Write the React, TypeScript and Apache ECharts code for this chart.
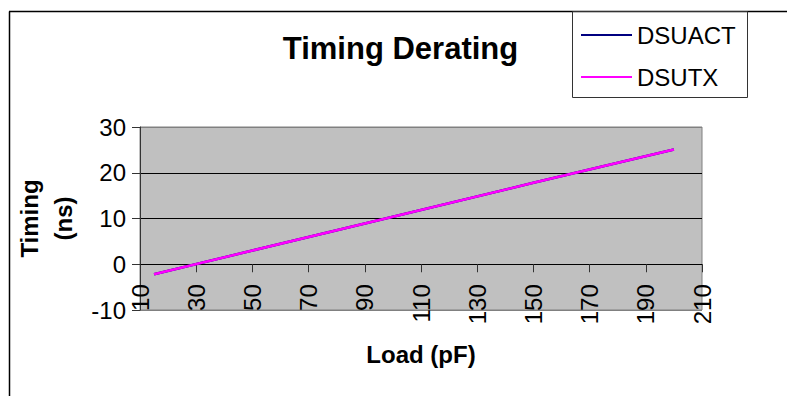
import React, { useEffect, useRef } from "react";
import * as echarts from "echarts";

const titleText = "Timing Derating";
const seriesNames = ["DSUACT", "DSUTX"];
const loads = [15, 50, 100, 150, 200];
const dsuact = [-2.2, 3.0, 10.4, 17.8, 25.1];
const dsutx = [-2.2, 3.0, 10.4, 17.8, 25.1];
const xTicks = [10, 30, 50, 70, 90, 110, 130, 150, 170, 190, 210];
const yTicks = [-10, 0, 10, 20, 30];

const FONT = '"Liberation Sans", Arial, sans-serif';

const GRID_TOP = 127;
const GRID_BOTTOM_PX = 310;

export default function App() {
  const ref = useRef<HTMLDivElement>(null);
  useEffect(() => {
    if (!ref.current) return;
    const chart = echarts.init(ref.current, undefined, { renderer: "svg" });
    const pairs = (ys: number[]) => loads.map((x, i) => [x, ys[i]]);
    const yMin = yTicks[0];
    const yMax = yTicks[yTicks.length - 1];
    // shift x axis up so it sits at y = 0 (like an Excel axis crossing)
    const zeroOffset = -((0 - yMin) / (yMax - yMin)) * (GRID_BOTTOM_PX - GRID_TOP);
    chart.setOption({
      animation: false,
      backgroundColor: "#ffffff",
      textStyle: { fontFamily: FONT },
      grid: {
        left: 140,
        right: 85,
        top: GRID_TOP,
        bottom: 396 - GRID_BOTTOM_PX,
        containLabel: false,
        outerBoundsMode: "none",
        show: true,
        backgroundColor: "#c0c0c0",
        borderColor: "#808080",
        borderWidth: 1,
      },
      legend: {
        orient: "vertical",
        left: 581,
        top: 23,
        padding: 0,
        itemGap: 18,
        itemWidth: 51,
        itemHeight: 2,
        icon: "rect",
        data: seriesNames,
        textStyle: { fontSize: 24, color: "#000", fontFamily: FONT, lineHeight: 24 },
      },
      xAxis: {
        type: "value",
        min: xTicks[0],
        max: xTicks[xTicks.length - 1],
        offset: zeroOffset,
        name: "Load (pF)",
        nameLocation: "middle",
        nameGap: 78,
        nameTextStyle: { fontSize: 24, fontWeight: "bold", color: "#000", fontFamily: FONT },
        axisLine: { show: true, onZero: false, lineStyle: { color: "#000", width: 1 } },
        axisTick: { show: true, length: 8, customValues: xTicks, lineStyle: { color: "#333" } },
        axisLabel: {
          customValues: xTicks,
          rotate: 90,
          margin: 20,
          fontSize: 24,
          color: "#000",
          fontFamily: FONT,
          showMinLabel: true,
          showMaxLabel: true,
        },
        splitLine: { show: false },
      },
      yAxis: {
        type: "value",
        min: yMin,
        max: yMax,
        interval: 10,
        name: "Timing\n(ns)",
        nameLocation: "middle",
        nameGap: 55,
        nameRotate: 90,
        nameTextStyle: {
          fontSize: 24,
          fontWeight: "bold",
          color: "#000",
          fontFamily: FONT,
          lineHeight: 34,
          align: "center",
        },
        axisLine: { show: true, lineStyle: { color: "#333", width: 1 } },
        axisTick: { show: true, length: 8, lineStyle: { color: "#333" } },
        axisLabel: { fontSize: 24, color: "#000", margin: 14, fontFamily: FONT },
        splitLine: {
          show: true,
          lineStyle: { color: ["#808080", "#000", "#000", "#000", "#808080"], width: 1 },
        },
      },
      graphic: [
        {
          type: "line",
          shape: { x1: 9.5, y1: 11.5, x2: 9.5, y2: 396 },
          style: { stroke: "#000", lineWidth: 1.5 },
          silent: true,
        },
        {
          type: "line",
          shape: { x1: 9, y1: 11.5, x2: 787, y2: 11.5 },
          style: { stroke: "#000", lineWidth: 1.5 },
          silent: true,
        },
        {
          type: "rect",
          shape: { x: 572.5, y: 11.5, width: 175, height: 86 },
          style: { fill: "none", stroke: "#333", lineWidth: 1 },
          silent: true,
        },
        {
          type: "text",
          x: 400.5,
          y: 48,
          style: {
            text: titleText,
            font: 'bold 31px "Liberation Sans", Arial, sans-serif',
            fill: "#000",
            align: "center",
            verticalAlign: "middle",
            textAlign: "center",
            textVerticalAlign: "middle",
          },
          silent: true,
        },
      ],
      series: [
        {
          name: seriesNames[0],
          type: "line",
          data: pairs(dsuact),
          symbol: "none",
          color: "#000080",
          lineStyle: { color: "#000080", width: 2.5 },
        },
        {
          name: seriesNames[1],
          type: "line",
          data: pairs(dsutx),
          symbol: "none",
          color: "#ff00ff",
          lineStyle: { color: "#ff00ff", width: 2.5 },
        },
      ],
    });
    return () => chart.dispose();
  }, []);
  return (
    <div
      ref={ref}
      style={{ position: "fixed", left: 0, top: 0, width: 787, height: 396 }}
    />
  );
}
